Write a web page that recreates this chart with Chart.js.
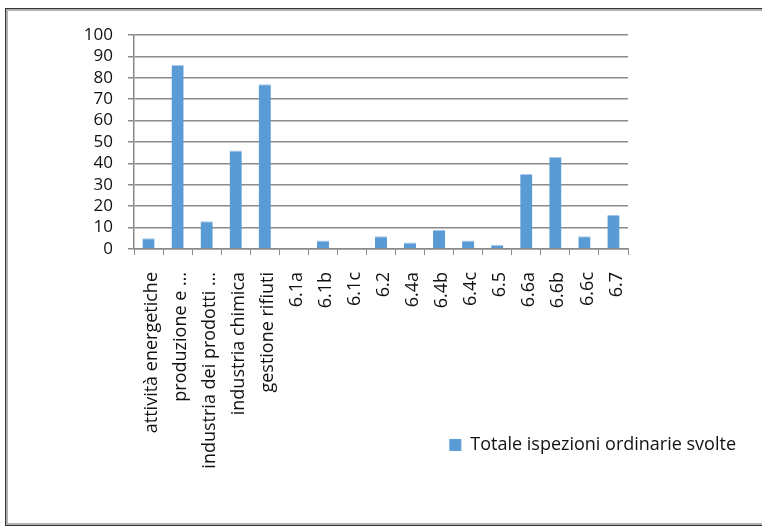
<!DOCTYPE html>
<html>
<head>
<meta charset="utf-8">
<script src="https://cdn.jsdelivr.net/npm/chart.js@4"></script>
<style>
  html, body { margin: 0; padding: 0; background: #fff; }
  #wrap { position: relative; width: 762px; height: 527px; overflow: hidden; }
  #frame {
    position: absolute; left: 5px; top: 8px; width: 780px; height: 516px;
    border: 1px solid #333; box-shadow: inset 0 0 0 2px #b0b0b0;
  }
  canvas { position: absolute; left: 0; top: 0; }
</style>
</head>
<body>
<div id="wrap">
  <div id="frame"></div>
  <canvas id="barChart" width="762" height="527"></canvas>
</div>
<script>
// dati
var categorie = ['attività energetiche', 'produzione e …', 'industria dei prodotti …', 'industria chimica',
    'gestione rifiuti', '6.1a', '6.1b', '6.1c', '6.2', '6.4a', '6.4b', '6.4c', '6.5', '6.6a', '6.6b', '6.6c', '6.7'];
var ispezioni = [5, 86, 13, 46, 77, 0, 4, 0, 6, 3, 9, 4, 2, 35, 43, 6, 16];
var nomeSerie = 'Totale ispezioni ordinarie svolte';
var tickY = [0, 10, 20, 30, 40, 50, 60, 70, 80, 90, 100];

Chart.defaults.font.family = "'Open Sans', sans-serif";
Chart.defaults.color = '#111';

// la legenda sta sotto, ma sovrapposta alla zona delle etichette
var spostaLegenda = {
    id: 'spostaLegenda',
    afterLayout: function (chart) {
        chart.legend.top -= 53;
        chart.legend.bottom -= 53;
    }
};

var ctx = document.getElementById('barChart').getContext('2d');
var myChart = new Chart(ctx, {
    type: 'bar',
    data: {
        labels: categorie,
        datasets: [{
            label: nomeSerie,
            data: ispezioni,
            backgroundColor: '#5b9bd5',
            borderColor: '#a7c8ea',
            borderWidth: { top: 1, left: 0, right: 0, bottom: 0 },
            barPercentage: 0.42,
            categoryPercentage: 1
        }]
    },
    plugins: [spostaLegenda],
    options: {
        responsive: false,
        animation: false,
        layout: { padding: { top: 35, left: 0, right: 16, bottom: 10 } },
        plugins: {
            tooltip: { enabled: false },
            legend: {
                position: 'bottom',
                align: 'end',
                labels: { boxWidth: 12, boxHeight: 12, font: { size: 18 }, color: '#111' }
            }
        },
        scales: {
            x: {
                offset: true,
                grid: { offset: true, drawOnChartArea: false, drawTicks: true, tickLength: 6, color: '#8a8a8a' },
                border: { color: '#8a8a8a', width: 1.5 },
                ticks: { minRotation: 90, maxRotation: 90, autoSkip: false, padding: 17, labelOffset: 3, font: { size: 18 } },
                afterFit: function (s) { s.height = 230; }
            },
            y: {
                min: 0,
                max: 100,
                afterBuildTicks: function (s) { s.ticks = tickY.map(function (v) { return { value: v }; }); },
                grid: { color: '#8a8a8a', lineWidth: 1.5, tickLength: 6 },
                border: { color: '#8a8a8a', width: 1.5 },
                ticks: { autoSkip: false, padding: 15, font: { size: 17 } },
                afterFit: function (s) { s.width = 134; }
            },
            y2: {
                position: 'right',
                grid: { display: false },
                border: { display: false },
                ticks: { display: false },
                afterFit: function (s) { s.width = 762 - 16 - 628; }
            }
        }
    }
});
</script>
</body>
</html>
